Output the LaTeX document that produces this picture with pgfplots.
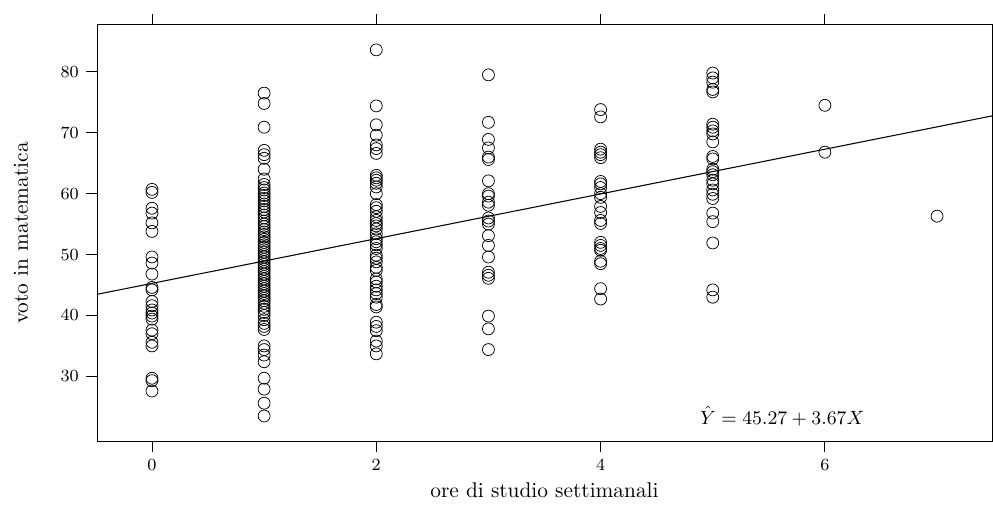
\documentclass[border=0pt]{standalone}
\usepackage{pgfplots}
\pgfplotsset{compat=1.18}
\pgfplotstableread{
x y
0 60.7
0 60.2
0 57.6
0 56.8
0 55.2
0 53.8
0 49.6
0 48.6
0 46.8
0 44.6
0 44.2
0 42.3
0 41.6
0 40.9
0 40.4
0 39.9
0 39.4
0 37.6
0 37.0
0 35.6
0 35.0
0 29.7
0 29.3
0 27.6
1 76.5
1 74.8
1 70.9
1 67.1
1 66.4
1 65.8
1 64.0
1 62.4
1 61.5
1 61.0
1 60.6
1 60.1
1 59.7
1 59.2
1 58.8
1 58.3
1 57.9
1 57.4
1 57.0
1 56.5
1 56.0
1 55.5
1 55.0
1 54.6
1 54.1
1 53.7
1 53.3
1 52.9
1 52.5
1 52.0
1 51.6
1 51.2
1 50.8
1 50.4
1 50.0
1 49.6
1 49.2
1 48.8
1 48.4
1 48.0
1 47.6
1 47.2
1 46.8
1 46.4
1 46.0
1 45.6
1 45.2
1 44.8
1 44.4
1 44.0
1 43.6
1 43.2
1 42.8
1 42.4
1 42.0
1 41.5
1 41.0
1 40.5
1 40.0
1 39.3
1 38.7
1 38.2
1 37.7
1 35.0
1 34.4
1 33.5
1 32.4
1 29.7
1 27.9
1 25.6
1 23.5
2 83.6
2 74.4
2 71.3
2 69.6
2 68.0
2 67.4
2 66.6
2 63.0
2 62.6
2 62.2
2 61.7
2 61.1
2 60.0
2 58.2
2 57.7
2 57.1
2 56.2
2 55.6
2 55.1
2 54.7
2 54.2
2 53.4
2 52.6
2 52.1
2 51.6
2 51.0
2 49.9
2 49.4
2 48.8
2 47.9
2 47.4
2 46.0
2 45.5
2 44.8
2 44.2
2 43.6
2 43.0
2 41.8
2 41.4
2 38.9
2 38.2
2 37.5
2 35.8
2 35.0
2 33.7
3 79.5
3 71.7
3 68.9
3 67.5
3 66.0
3 65.6
3 62.1
3 60.0
3 59.6
3 58.6
3 58.1
3 56.0
3 55.5
3 55.0
3 53.1
3 51.5
3 49.6
3 47.1
3 46.6
3 46.1
3 39.9
3 37.8
3 34.4
4 73.8
4 72.6
4 67.3
4 66.8
4 66.4
4 65.9
4 62.0
4 61.6
4 61.0
4 60.0
4 59.4
4 57.9
4 56.9
4 55.6
4 55.1
4 52.0
4 51.5
4 51.0
4 50.7
4 48.9
4 48.5
4 44.4
4 42.7
5 79.8
5 79.0
5 78.3
5 77.1
5 76.7
5 71.4
5 70.9
5 70.3
5 69.8
5 68.5
5 66.1
5 65.7
5 64.0
5 63.6
5 63.1
5 62.2
5 61.6
5 60.6
5 59.9
5 59.2
5 56.8
5 55.4
5 51.9
5 44.2
5 43.0
6 74.5
6 66.8
7 56.3
}\datatable
\begin{document}
\begin{tikzpicture}
\begin{axis}[
  width=418.9pt, height=195.3pt, scale only axis,
  xmin=-0.49, xmax=7.49, ymin=19.3, ymax=87.8,
  xtick={0,2,4,6}, ytick={30,40,50,60,70,80},
  tick align=outside, major tick length=5pt,
  xtick pos=both, ytick pos=both, xticklabel pos=bottom, yticklabel pos=left,
  tick style={black, line width=0.4pt},
  axis line style={line width=0.45pt},
  tick label style={font=\fontsize{8}{9}\selectfont},
  xlabel={ore di studio settimanali}, ylabel={voto in matematica},
  xlabel style={at={(axis description cs:0.5,-0.1157)}, anchor=center},
  ylabel style={at={(axis description cs:-0.085,0.5)}, anchor=center},
  clip=false,
]
\addplot[only marks, mark=o, mark size=2.8pt, mark options={line width=0.35pt, black}] table[x=x,y=y] {\datatable};
\addplot[black, line width=0.5pt] coordinates {(-0.49,43.47) (7.49,72.76)};
\node[anchor=center, font=\fontsize{9.5}{11}\selectfont] at (axis cs:5.62,23.4) {$\hat{Y} = 45.27 + 3.67X$};
\coordinate (bl) at (rel axis cs:-0.1084,-0.2044);
\coordinate (tr) at (rel axis cs:1.0011,1.0582);
\end{axis}
\pgfresetboundingbox
\path[use as bounding box] (bl) rectangle (tr);
\end{tikzpicture}
\end{document}
